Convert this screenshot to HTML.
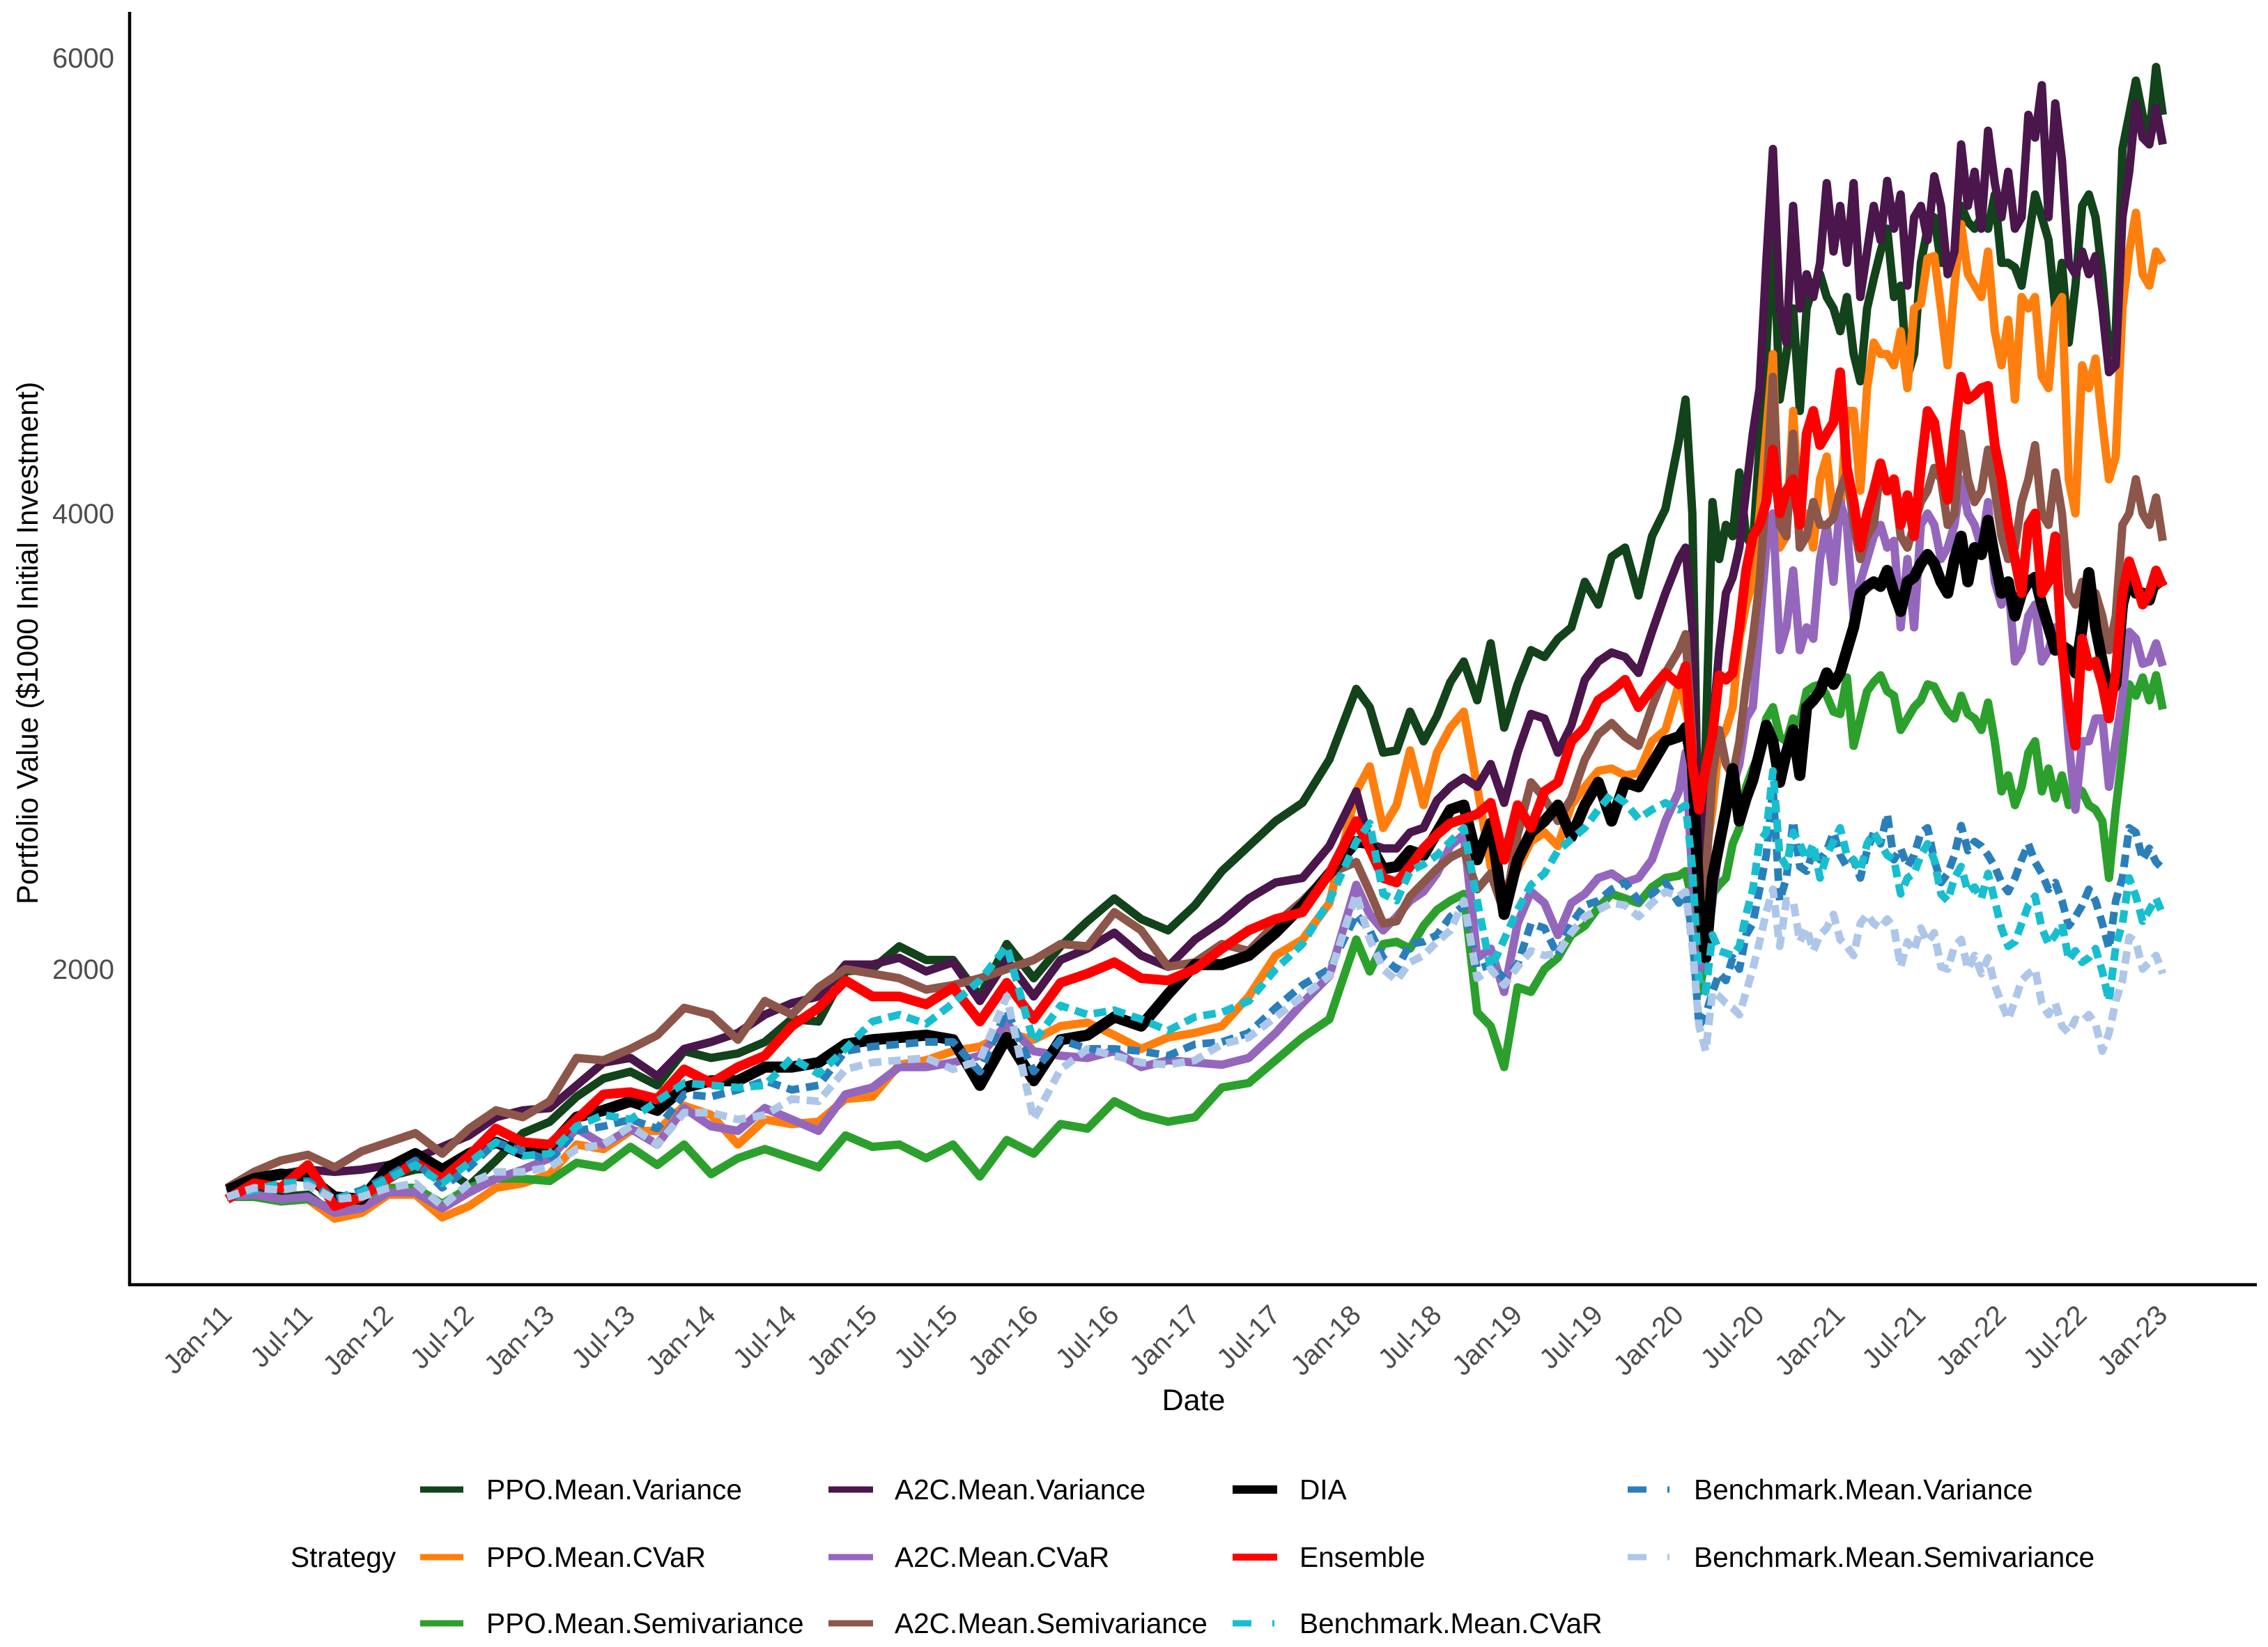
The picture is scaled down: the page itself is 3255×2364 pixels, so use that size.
<!DOCTYPE html>
<html lang="en">
<head>
<meta charset="utf-8">
<title>Portfolio Value by Strategy</title>
<style>
html,body{margin:0;padding:0;background:#fff;}
svg{display:block;}
text{font-family:"Liberation Sans",Arial,sans-serif;}
.tick{font-size:40px;fill:#4d4d4d;}
.axis-title{font-size:43px;fill:#000;}
.legend-label{font-size:40.6px;fill:#000;}
.series{fill:none;stroke-linejoin:round;stroke-linecap:butt;}
</style>
</head>
<body>
<svg id="chart" xmlns="http://www.w3.org/2000/svg" width="3255" height="2364" viewBox="0 0 3255 2364">
  <rect width="3255" height="2364" fill="#ffffff"/>
  <g id="x-ticks"></g>
  <g id="y-ticks"></g>
  <g>
    <path id="s-ppoMV" class="series" stroke="#12431a" stroke-width="12"/>
    <path id="s-ppoCVaR" class="series" stroke="#ff7f0e" stroke-width="12"/>
    <path id="s-ppoSemi" class="series" stroke="#2ca02c" stroke-width="12"/>
    <path id="s-a2cMV" class="series" stroke="#4a164b" stroke-width="12"/>
    <path id="s-a2cCVaR" class="series" stroke="#9467bd" stroke-width="12"/>
    <path id="s-a2cSemi" class="series" stroke="#8c564b" stroke-width="12"/>
    <path id="s-dia" class="series" stroke="#000000" stroke-width="16"/>
    <path id="s-ensemble" class="series" stroke="#ff0000" stroke-width="14"/>
    <path id="s-benchMV" class="series" stroke="#2a7fbb" stroke-width="11" stroke-dasharray="18 10"/>
    <path id="s-benchCVaR" class="series" stroke="#17becf" stroke-width="11" stroke-dasharray="18 10"/>
    <path id="s-benchSemi" class="series" stroke="#aec7e8" stroke-width="11" stroke-dasharray="18 10"/>
  </g>
  <line x1="186" y1="17" x2="186" y2="1846" stroke="#000" stroke-width="4.5"/>
  <line x1="184" y1="1844" x2="3239" y2="1844" stroke="#000" stroke-width="4.5"/>
  <text class="axis-title" text-anchor="middle" transform="translate(54,923) rotate(-90)" textLength="750" lengthAdjust="spacingAndGlyphs">Portfolio Value ($1000 Initial Investment)</text>
  <text class="axis-title" x="1713" y="2024" text-anchor="middle">Date</text>
  <g>
    <text class="legend-label" x="417" y="2249">Strategy</text>

    <g>
      <line x1="603" x2="665" y1="2138" y2="2138" stroke="#12431a" stroke-width="9"/>
      <text class="legend-label" x="698" y="2152">PPO.Mean.Variance</text>
    </g>
    <g>
      <line x1="603" x2="665" y1="2235" y2="2235" stroke="#ff7f0e" stroke-width="9"/>
      <text class="legend-label" x="698" y="2249">PPO.Mean.CVaR</text>
    </g>
    <g>
      <line x1="603" x2="665" y1="2330" y2="2330" stroke="#2ca02c" stroke-width="9"/>
      <text class="legend-label" x="698" y="2344">PPO.Mean.Semivariance</text>
    </g>

    <g>
      <line x1="1189" x2="1253" y1="2138" y2="2138" stroke="#4a164b" stroke-width="9"/>
      <text class="legend-label" x="1284" y="2152">A2C.Mean.Variance</text>
    </g>
    <g>
      <line x1="1189" x2="1253" y1="2235" y2="2235" stroke="#9467bd" stroke-width="9"/>
      <text class="legend-label" x="1284" y="2249">A2C.Mean.CVaR</text>
    </g>
    <g>
      <line x1="1189" x2="1253" y1="2330" y2="2330" stroke="#8c564b" stroke-width="9"/>
      <text class="legend-label" x="1284" y="2344">A2C.Mean.Semivariance</text>
    </g>

    <g>
      <line x1="1769" x2="1833" y1="2138" y2="2138" stroke="#000000" stroke-width="12"/>
      <text class="legend-label" x="1865" y="2152">DIA</text>
    </g>
    <g>
      <line x1="1769" x2="1833" y1="2235" y2="2235" stroke="#ff0000" stroke-width="10"/>
      <text class="legend-label" x="1865" y="2249">Ensemble</text>
    </g>
    <g>
      <line x1="1769" x2="1833" y1="2330" y2="2330" stroke="#17becf" stroke-width="9" stroke-dasharray="27 30 3 200"/>
      <text class="legend-label" x="1865" y="2344">Benchmark.Mean.CVaR</text>
    </g>

    <g>
      <line x1="2336" x2="2398" y1="2138" y2="2138" stroke="#2a7fbb" stroke-width="9" stroke-dasharray="27 30 3 200"/>
      <text class="legend-label" x="2431" y="2152">Benchmark.Mean.Variance</text>
    </g>
    <g>
      <line x1="2336" x2="2398" y1="2235" y2="2235" stroke="#aec7e8" stroke-width="9" stroke-dasharray="27 30 3 200"/>
      <text class="legend-label" x="2431" y="2249">Benchmark.Mean.Semivariance</text>
    </g>
  </g>
</svg>
<script>
// Months since Jan-2011 for every sampled observation
const monthOffsets = [
0,2,4,6,8,10,12,14,16,18,20,22,24,26,28,30,32,34,36,38,40,42,44,46,48,50,52,54,56,58,60,62,64,66,68,70,72,74,76,78,80,82,
84,85,86,87,88,89,90,91,92,93,94,95,96,97,98,99,100,101,102,103,104,105,106,107,
108,108.5,109,109.5,110,110.5,111,111.5,112,112.5,113,113.5,114,114.5,115,115.5,116,116.5,117,117.5,118,118.5,119,119.5,
120,120.5,121,121.5,122,122.5,123,123.5,124,124.5,125,125.5,126,126.5,127,127.5,128,128.5,129,129.5,130,130.5,131,131.5,
132,132.5,133,133.5,134,134.5,135,135.5,136,136.5,137,137.5,138,138.5,139,139.5,140,140.5,141,141.5,142,142.5,143,143.5,144];

const xTickLabels = ["Jan-11","Jul-11","Jan-12","Jul-12","Jan-13","Jul-13","Jan-14","Jul-14","Jan-15","Jul-15","Jan-16","Jul-16","Jan-17","Jul-17","Jan-18","Jul-18","Jan-19","Jul-19","Jan-20","Jul-20","Jan-21","Jul-21","Jan-22","Jul-22","Jan-23"];
const yTickValues = [2000,4000,6000];

const ppoMV = [1040,1030,1000,1010,920,950,1090,1120,1130,1050,1160,1280,1330,1440,1520,1550,1490,1640,1610,1630,1680,1780,1770,1990,2000,2100,2040,2040,1880,2110,1960,2100,2210,2310,2220,2170,2280,2430,2540,2650,2730,2920,
3230,3150,2950,2960,3130,3000,3110,3260,3350,3180,3430,3060,3250,3400,3370,3450,3500,3700,3600,3810,3850,3640,3900,4020,
4320,4500,4000,2400,3000,4050,3800,3950,3900,4180,3900,3850,4300,4700,5300,4500,4700,4900,4450,4900,5000,5050,4950,4900,4800,4950,4700,4580,4900,5030,5150,5250,4950,5000,4600,4700,5100,5250,5300,5100,5100,5100,5350,5280,5250,5300,5250,5400,5100,5100,5080,5000,5200,5400,5300,5200,4900,5100,4750,5000,5350,5400,5300,5050,4700,4800,5600,5750,5900,5750,5650,5960,5750];

const ppoCVaR = [1000,1010,980,990,905,930,1010,1010,910,960,1040,1060,1100,1230,1210,1290,1290,1400,1360,1230,1340,1320,1330,1430,1440,1580,1600,1640,1660,1720,1690,1750,1765,1710,1650,1700,1720,1750,1880,2060,2130,2290,
2780,2890,2620,2720,2960,2720,2950,3060,3130,2800,2450,2350,2440,2560,2600,2540,2720,2800,2870,2880,2850,2860,3000,3050,
3250,3150,3000,2000,2500,2700,3000,3050,3150,3450,3600,3700,4000,4350,4700,3850,3900,4450,3950,4000,3850,4150,4250,3980,4000,4450,4450,4100,4550,4750,4700,4700,4650,4800,4550,4900,4920,5120,5130,4900,4650,5000,5270,5050,5000,4950,5150,4800,4650,4850,4500,4950,4900,4950,4600,4550,4900,4950,4150,4000,4650,4550,4680,4400,4150,4250,4900,5150,5320,5050,5000,5150,5100];

const ppoSemi = [1000,1000,980,990,945,960,1040,1040,970,1040,1080,1080,1070,1150,1130,1220,1140,1230,1100,1170,1210,1170,1130,1270,1220,1230,1170,1230,1090,1250,1190,1320,1300,1420,1360,1330,1350,1480,1500,1600,1700,1780,
2130,1990,2110,2120,2090,2190,2260,2300,2330,1810,1750,1570,1920,1900,2000,2050,2150,2190,2270,2330,2310,2290,2360,2400,
2410,2430,2300,1900,2050,2330,2370,2400,2550,2620,2800,2880,2950,3100,3150,3020,3000,3100,3080,3220,3240,3250,3200,3130,3120,3280,2980,3100,3220,3260,3290,3220,3200,3050,3100,3150,3180,3250,3240,3180,3130,3100,3200,3120,3100,3050,3170,3000,2780,2850,2720,2800,2950,3000,2780,2880,2750,2850,2720,2800,2780,2720,2700,2650,2400,2700,2950,3250,3200,3280,3180,3290,3140];

const a2cMV = [1020,1060,1100,1120,1110,1120,1140,1170,1220,1270,1350,1380,1390,1490,1590,1610,1530,1650,1680,1720,1800,1850,1880,2020,2020,2050,1990,2030,1860,2040,1880,2040,2090,2160,2060,2010,2130,2210,2310,2380,2400,2540,
2780,2550,2530,2530,2600,2620,2740,2800,2840,2800,2900,2730,2950,3120,3100,2950,3070,3270,3350,3390,3370,3300,3480,3650,
3800,3850,3500,2400,2800,3050,3400,3650,3720,3850,4100,4350,4550,5100,5600,4900,4750,5350,4900,5050,4950,5100,5450,5150,5350,5100,5450,4950,5150,5350,5200,5460,5250,5400,5000,5300,5350,5200,5480,5350,5050,5150,5620,5350,5500,5250,5680,5450,5300,5500,5250,5300,5750,5650,5880,5300,5800,5550,5100,5050,5150,5050,5130,4900,4620,4650,5300,5500,5800,5650,5620,5780,5620];

const a2cCVaR = [1000,1010,990,1000,930,950,1020,1020,950,1020,1080,1120,1170,1300,1230,1300,1230,1390,1310,1290,1390,1340,1290,1450,1480,1570,1570,1590,1620,1760,1640,1620,1610,1640,1570,1600,1590,1580,1610,1720,1850,1970,
2370,2240,2170,2230,2300,2340,2420,2540,2590,2050,2090,1900,2200,2340,2290,2150,2290,2330,2400,2420,2380,2400,2480,2650,
2780,2950,2400,2000,2050,2300,2550,2700,2800,2900,3100,3150,3500,3850,4000,3400,3500,3750,3400,3500,3450,3800,3950,3700,4050,3950,3550,3700,3800,3900,3950,3850,3880,3500,3800,3500,3950,4000,3950,3800,3850,3950,4150,4000,3950,3850,4050,3700,3600,3700,3350,3400,3550,3600,3350,3400,3500,3400,3000,2700,3000,3000,3100,3100,2800,3000,3200,3480,3450,3340,3350,3430,3330];

const a2cSemi = [1040,1110,1160,1185,1130,1200,1240,1280,1190,1300,1380,1350,1420,1610,1600,1650,1710,1830,1800,1690,1860,1800,1920,2000,1980,1960,1910,1930,1960,2000,2040,2110,2100,2250,2170,2010,2030,2110,2080,2200,2300,2420,
2470,2340,2200,2210,2320,2380,2440,2490,2520,2350,2420,2250,2590,2820,2750,2650,2750,2920,3030,3080,3020,2980,3150,3300,
3400,3470,3000,2100,2400,2850,3050,2900,2850,3000,3250,3450,3700,4100,4600,3950,3900,4350,3850,3900,4050,3950,3950,3980,4100,4180,3950,3800,3900,3950,4200,4100,4150,3900,3850,3950,4050,4100,4200,4150,3950,4000,4350,4150,4050,4100,4280,4100,3900,3800,3850,4050,4150,4300,4000,3950,4180,4000,3650,3600,3700,3620,3650,3550,3400,3550,3950,4000,4150,4000,3950,4070,3880];

const dia = [1030,1080,1100,1090,1000,990,1130,1190,1120,1190,1240,1190,1220,1350,1380,1420,1380,1480,1510,1510,1570,1570,1590,1670,1690,1700,1710,1690,1490,1700,1510,1690,1710,1790,1750,1890,2020,2020,2060,2160,2280,2420,
2560,2550,2440,2450,2520,2500,2600,2700,2720,2480,2640,2240,2480,2600,2650,2720,2580,2720,2820,2650,2820,2800,2900,3000,
3020,3060,2900,2300,2050,2400,2550,2700,2880,2650,2750,2830,2950,3070,3000,2820,2950,3050,2850,3150,3180,3220,3300,3250,3300,3400,3500,3650,3680,3700,3680,3750,3650,3570,3700,3720,3780,3820,3780,3700,3650,3800,3900,3700,3850,3820,3970,3800,3650,3700,3550,3650,3700,3720,3600,3500,3400,3420,3400,3300,3500,3740,3500,3350,3200,3250,3600,3720,3650,3650,3620,3720,3680];

const ensemble = [990,1060,1040,1140,960,1000,1080,1150,1080,1180,1300,1240,1230,1340,1450,1460,1430,1560,1500,1570,1620,1750,1830,1950,1880,1880,1845,1920,1770,1940,1780,1940,1980,2030,1960,1950,2000,2090,2170,2220,2250,2420,
2650,2530,2400,2380,2450,2530,2590,2640,2660,2680,2730,2480,2720,2620,2780,2820,3000,3060,3180,3220,3270,3150,3230,3300,
3250,3330,2900,2700,2880,3030,3290,3270,3300,3500,3750,3900,3950,4050,4280,4000,4100,4150,3950,4350,4450,4300,4350,4400,4620,4200,4050,3850,4000,4100,4220,4100,4150,3950,4080,3900,4200,4450,4400,4200,4060,4350,4600,4500,4520,4550,4560,4300,4150,3950,3800,3650,3950,4000,3650,3700,3900,3400,3150,2980,3450,3330,3350,3250,3100,3300,3650,3790,3700,3600,3650,3750,3680];

const benchMV = [1000,1030,1060,1070,990,1030,1090,1160,1040,1130,1240,1200,1160,1290,1310,1340,1300,1450,1440,1470,1510,1470,1490,1640,1660,1670,1680,1680,1550,1820,1550,1690,1650,1650,1640,1620,1670,1680,1720,1830,1930,2000,
2240,2170,2050,2000,2110,2120,2150,2230,2280,2000,2020,1960,2020,2200,2180,2060,2200,2280,2300,2350,2380,2300,2330,2380,
2290,2340,2150,1750,1800,1900,1980,1950,2050,2000,2150,2200,2350,2500,2800,2300,2400,2650,2450,2430,2520,2480,2520,2600,2500,2450,2480,2400,2520,2600,2550,2680,2480,2530,2450,2500,2600,2620,2480,2380,2420,2500,2630,2520,2560,2540,2500,2450,2380,2340,2400,2480,2550,2470,2420,2350,2380,2300,2190,2230,2280,2350,2300,2200,2090,2300,2400,2620,2600,2480,2530,2470,2440];

const benchCVaR = [1000,1030,1060,1060,990,1020,1080,1140,1060,1150,1240,1180,1190,1310,1360,1340,1420,1500,1490,1480,1490,1610,1540,1650,1770,1800,1760,1850,1950,2100,1680,1840,1800,1820,1780,1730,1790,1810,1860,2000,2110,2300,
2560,2640,2330,2300,2430,2460,2500,2560,2620,2300,2000,2130,2260,2370,2420,2520,2570,2620,2700,2770,2730,2660,2700,2730,
2700,2720,2450,1950,1900,2150,2080,2070,2060,2100,2240,2350,2560,2600,2870,2500,2450,2600,2550,2480,2550,2400,2500,2560,2620,2500,2480,2430,2550,2600,2550,2500,2480,2330,2400,2420,2500,2550,2480,2330,2300,2400,2450,2340,2360,2310,2420,2300,2180,2100,2120,2200,2280,2320,2180,2110,2150,2200,2040,2080,2030,2050,2090,1990,1860,2100,2200,2400,2320,2210,2260,2310,2240];

const benchSemi = [1000,1040,1030,1050,990,1000,1040,1060,960,1060,1110,1110,1130,1210,1230,1310,1230,1370,1370,1340,1360,1430,1420,1560,1590,1600,1610,1560,1600,1880,1340,1560,1650,1620,1590,1580,1600,1670,1700,1790,1880,1970,
2330,2130,2000,1950,2030,2060,2120,2170,2300,1960,2000,1930,2010,2080,2060,2070,2160,2230,2260,2290,2280,2230,2290,2340,
2320,2340,2100,1750,1640,1900,1880,1850,1830,1800,1900,2000,2120,2250,2350,2100,2300,2300,2120,2180,2080,2150,2180,2240,2130,2100,2060,2200,2240,2200,2180,2220,2180,2010,2120,2080,2180,2120,2160,2010,2000,2100,2130,2000,2060,1980,2050,1930,1850,1780,1860,1950,1980,2000,1850,1800,1850,1750,1720,1780,1770,1800,1760,1640,1720,1860,1950,2140,2120,2000,2030,2060,1980];

const SVG_NS = 'http://www.w3.org/2000/svg';

function xScale(m){ return 326 + m * (2778 / 144); }
function yScale(v){ return 1391 - (v - 2000) * 0.327; }

function linePath(values){
  let d = '';
  for (let i = 0; i < values.length && i < monthOffsets.length; i++){
    d += (i ? 'L' : 'M') + xScale(monthOffsets[i]).toFixed(1) + ' ' + yScale(values[i]).toFixed(1);
  }
  return d;
}

document.getElementById('s-ppoMV').setAttribute('d', linePath(ppoMV));
document.getElementById('s-ppoCVaR').setAttribute('d', linePath(ppoCVaR));
document.getElementById('s-ppoSemi').setAttribute('d', linePath(ppoSemi));
document.getElementById('s-a2cMV').setAttribute('d', linePath(a2cMV));
document.getElementById('s-a2cCVaR').setAttribute('d', linePath(a2cCVaR));
document.getElementById('s-a2cSemi').setAttribute('d', linePath(a2cSemi));
document.getElementById('s-dia').setAttribute('d', linePath(dia));
document.getElementById('s-ensemble').setAttribute('d', linePath(ensemble));
document.getElementById('s-benchMV').setAttribute('d', linePath(benchMV));
document.getElementById('s-benchCVaR').setAttribute('d', linePath(benchCVaR));
document.getElementById('s-benchSemi').setAttribute('d', linePath(benchSemi));

const xGroup = document.getElementById('x-ticks');
xTickLabels.forEach(function(label, i){
  const el = document.createElementNS(SVG_NS, 'text');
  
  
  el.setAttribute('class', 'tick');
  el.setAttribute('text-anchor', 'end');
  el.setAttribute('transform', 'translate(' + (xScale(i * 6) + 9) + ',1890) rotate(-45)');
  el.textContent = label;
  xGroup.appendChild(el);
});

const yGroup = document.getElementById('y-ticks');
yTickValues.forEach(function(v){
  const el = document.createElementNS(SVG_NS, 'text');
  
  
  el.setAttribute('class', 'tick');
  el.setAttribute('text-anchor', 'end');
  el.setAttribute('x', '164');
  el.setAttribute('y', String(yScale(v) + 14));
  el.textContent = String(v);
  yGroup.appendChild(el);
});
</script>
</body>
</html>
